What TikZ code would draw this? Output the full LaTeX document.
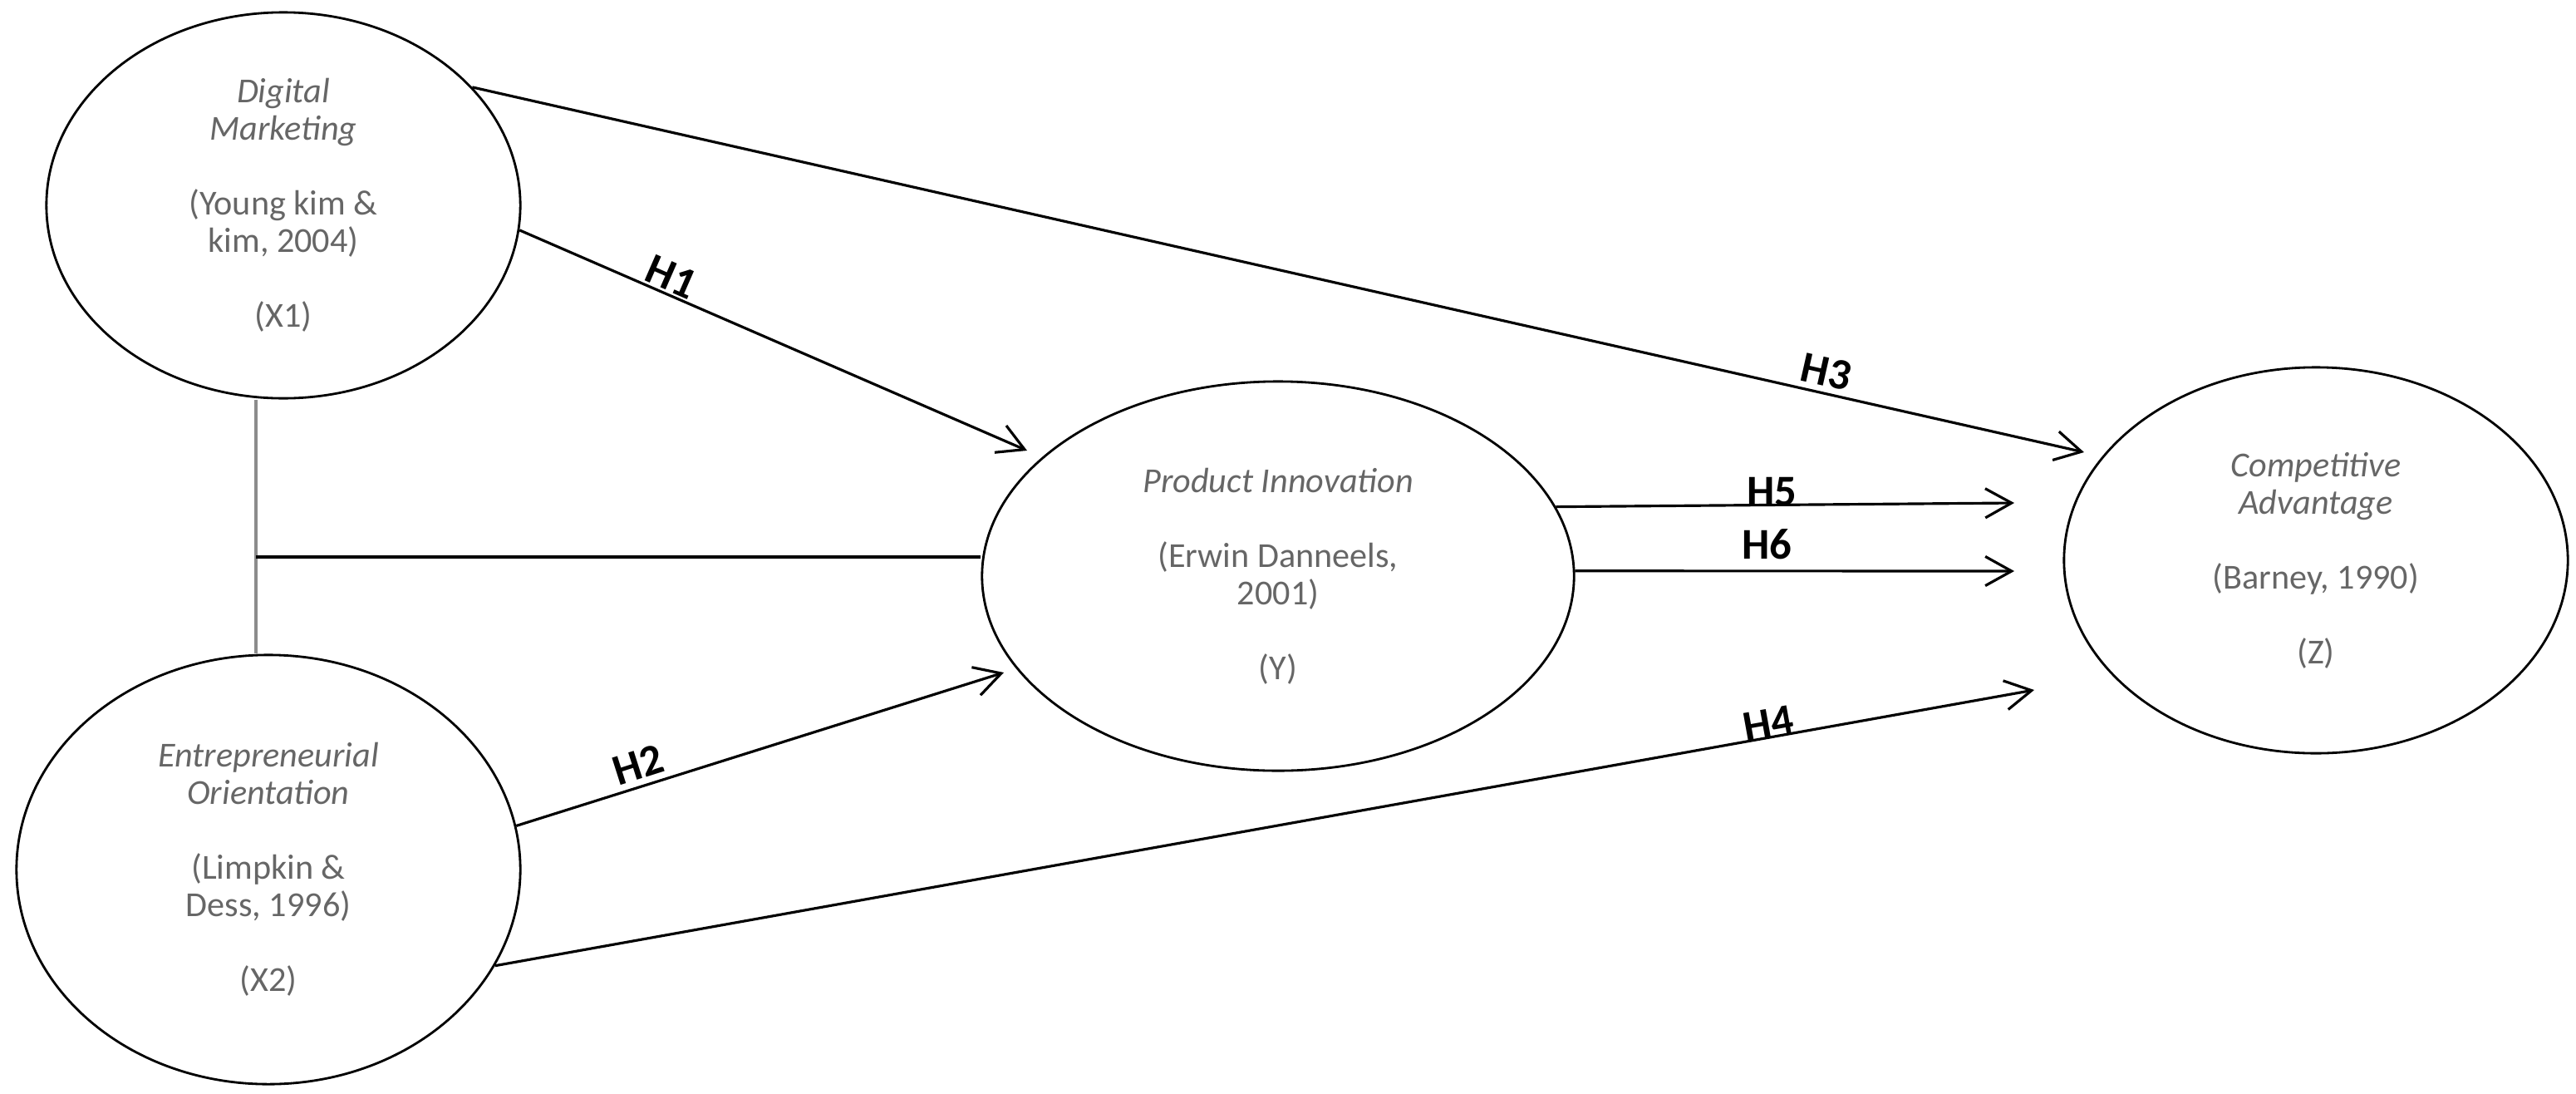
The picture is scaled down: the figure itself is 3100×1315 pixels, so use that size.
\documentclass[tikz,border=0pt]{standalone}
\usepackage{fontspec}
\setmainfont{Carlito}
\usetikzlibrary{shapes.geometric,arrows.meta}
\tikzset{
  latent/.style={draw=black,line width=0.8pt,ellipse,inner sep=0pt,align=center,text=black!60,
    font=\fontsize{12}{12.8}\selectfont},
  conn/.style={line width=0.9pt,-{Straight Barb[length=9pt,width=10pt,line width=0.9pt]}},
  plain/.style={line width=0.9pt},
  hlab/.style={font=\fontsize{15}{15}\selectfont\bfseries,text=black,inner sep=1pt}
}
\begin{document}
\begin{tikzpicture}[x=0.01cm,y=-0.01cm]
\useasboundingbox (0,0) rectangle (3100,1315);
\node[latent,minimum width=5.70cm,minimum height=4.64cm] (dm) at (341,247)
  {\textit{Digital}\\\textit{Marketing}\\[12.8pt](Young kim \&\\kim, 2004)\\[12.8pt](X1)};
\node[latent,minimum width=6.06cm,minimum height=5.16cm] (eo) at (323,1046)
  {\textit{Entrepreneurial}\\\textit{Orientation}\\[12.8pt](Limpkin \&\\Dess, 1996)\\[12.8pt](X2)};
\node[latent,minimum width=7.12cm,minimum height=4.68cm] (pi) at (1538,693)
  {\textit{Product Innovation}\\[12.8pt](Erwin Danneels,\\2001)\\[12.8pt](Y)};
\node[latent,minimum width=6.06cm,minimum height=4.64cm] (ca) at (2787,674)
  {\textit{Competitive}\\\textit{Advantage}\\[12.8pt](Barney, 1990)\\[12.8pt](Z)};
\coordinate (jn) at (308,670);
\coordinate (e1) at (1236,542);
\coordinate (e3) at (2508,544);
\coordinate (e5) at (2424,605);
\coordinate (e6) at (2424,687);
\coordinate (e2) at (1208,809);
\coordinate (e4) at (2448,830);
\draw[line width=1.4pt,black!45] (jn |- dm.south) -- (jn |- eo.north);
\draw[plain] (jn) -- (jn -| pi.west);
\draw[conn] (dm.32) -- (e3);
\draw[conn] (dm.-6) -- (e1);
\draw[conn] (pi.14) -- (e5);
\draw[conn] (pi.1) -- (e6);
\draw[conn] (eo.10) -- (e2);
\draw[conn] (eo.-23) -- (e4);
\node[hlab,rotate=-23.6] (h1) at (808,333) {H1};
\node[hlab,rotate=-12.8] (h3) at (2198,447) {H3};
\node[hlab] (h5) at (2132,592) {H5};
\node[hlab] (h6) at (2126,655) {H6};
\node[hlab,rotate=17.7] (h2) at (768,920) {H2};
\node[hlab,rotate=10.2] (h4) at (2128,870) {H4};
\end{tikzpicture}
\end{document}
